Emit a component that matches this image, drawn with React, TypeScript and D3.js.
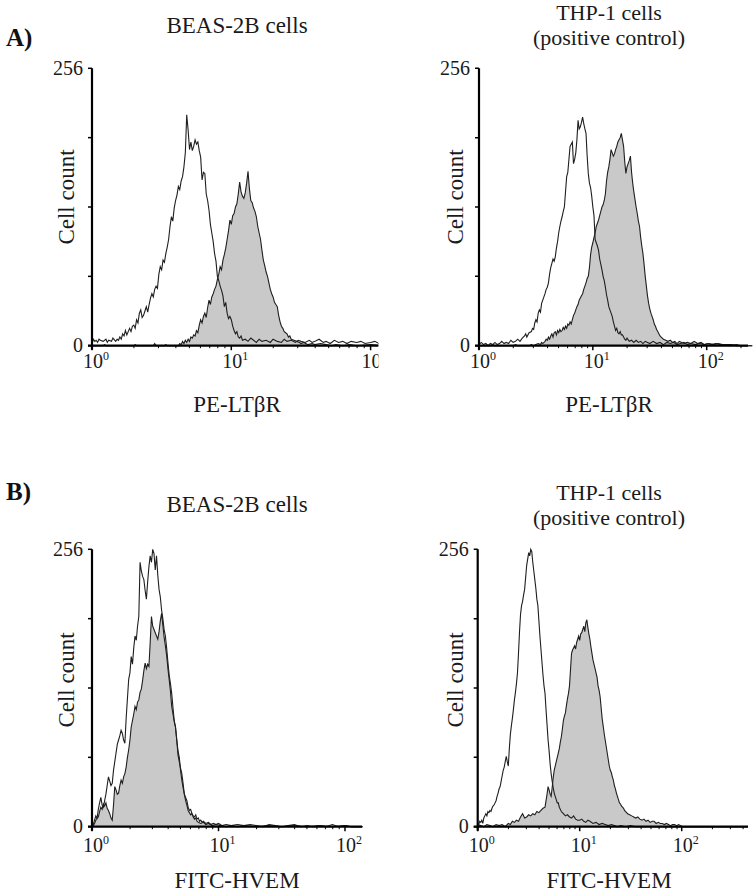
import React from "react";
import * as d3 from "d3";

type Pt = [number, number];

// Flow-cytometry histograms. x = channel position in 1/100 decade (0 -> 10^0, 100 -> 10^1, 200 -> 10^2), y = cell count
const beasLtbrControl: Pt[] = [
  [0, 2], [1, 6], [2, 4], [3, 5], [4, 3], [5, 6], [6, 5], [8, 4], [10, 6], [11, 3], [12, 5], [14, 4], [15, 7], [17, 4], [18, 6], [19, 5],
  [20, 8], [21, 6], [22, 11], [23, 9], [24, 14], [25, 10], [26, 13], [27, 16], [28, 13], [29, 18], [30, 19], [31, 16], [32, 24], [33, 21],
  [34, 30], [35, 33], [36, 26], [37, 28], [38, 32], [39, 36], [40, 31], [41, 38], [42, 44], [43, 48], [44, 45], [45, 52], [46, 55], [47, 53],
  [48, 66], [49, 73], [50, 70], [51, 79], [52, 77], [53, 85], [54, 91], [55, 98], [56, 110], [57, 119], [58, 115], [59, 127], [60, 134],
  [61, 139], [62, 147], [63, 144], [64, 152], [65, 156], [66, 165], [67, 178], [68, 213], [69, 199], [70, 181], [71, 188], [72, 180],
  [73, 184], [74, 190], [75, 186], [76, 188], [77, 180], [78, 174], [79, 153], [80, 160], [81, 159], [82, 140], [83, 134], [84, 125],
  [85, 112], [86, 104], [87, 96], [88, 85], [89, 78], [90, 64], [91, 60], [92, 55], [93, 51], [94, 46], [95, 36], [96, 40], [97, 30],
  [98, 25], [99, 27], [100, 24], [101, 18], [102, 14], [103, 11], [104, 13], [105, 8], [106, 7], [107, 9], [108, 5], [110, 6], [112, 4],
  [114, 7], [116, 5], [118, 3], [120, 6], [122, 4], [125, 5], [128, 3], [130, 6], [133, 4], [136, 3], [138, 6], [140, 4], [143, 5],
  [146, 3], [148, 5], [150, 4], [153, 3], [156, 5], [158, 3], [160, 4], [163, 6], [166, 3], [168, 4], [171, 2], [174, 5], [177, 3],
  [180, 4], [183, 2], [186, 4], [190, 3], [193, 4], [196, 2], [200, 3], [203, 4], [206, 2], [210, 3],
];

const beasLtbrStained: Pt[] = [
  [0, 0], [8, 0], [9, 1], [10, 0], [30, 0], [31, 1], [32, 0], [44, 0], [45, 2], [46, 0], [52, 0], [53, 1], [54, 0], [62, 0], [63, 2],
  [64, 1], [65, 4], [66, 2], [67, 5], [68, 3], [69, 6], [70, 4], [71, 8], [72, 7], [73, 10], [74, 9], [75, 14], [76, 12], [77, 19],
  [78, 24], [79, 21], [80, 27], [81, 30], [82, 26], [83, 35], [84, 42], [85, 38], [86, 45], [87, 48], [88, 52], [89, 55], [90, 61],
  [91, 66], [92, 73], [93, 70], [94, 79], [95, 84], [96, 90], [97, 98], [98, 106], [99, 116], [100, 112], [101, 120], [102, 122],
  [103, 128], [104, 131], [105, 140], [106, 151], [107, 142], [108, 138], [109, 136], [110, 141], [111, 150], [112, 161], [113, 145],
  [114, 134], [115, 132], [116, 127], [117, 124], [118, 119], [119, 110], [120, 104], [121, 98], [122, 88], [123, 79], [124, 74],
  [125, 68], [126, 64], [127, 58], [128, 52], [129, 48], [130, 45], [131, 40], [132, 38], [133, 36], [134, 28], [135, 22], [136, 18],
  [137, 16], [138, 13], [139, 12], [140, 11], [141, 8], [142, 9], [143, 6], [145, 5], [147, 4], [149, 3], [150, 2], [152, 3], [155, 1],
  [158, 2], [160, 1], [164, 2], [168, 1], [172, 0], [175, 1], [180, 0], [185, 1], [190, 0], [200, 1], [210, 0],
];

const thpLtbrControl: Pt[] = [
  [0, 1], [2, 3], [4, 1], [6, 2], [8, 0], [10, 2], [12, 1], [14, 3], [16, 1], [18, 2], [20, 4], [22, 2], [24, 3], [26, 2], [28, 5],
  [30, 3], [32, 4], [34, 6], [36, 4], [38, 7], [40, 9], [41, 11], [42, 8], [44, 12], [46, 13], [47, 16], [48, 15], [49, 21], [50, 24],
  [51, 22], [52, 30], [53, 33], [54, 31], [55, 39], [56, 42], [57, 45], [58, 48], [59, 52], [60, 54], [61, 58], [62, 66], [63, 72],
  [64, 76], [65, 80], [66, 78], [67, 82], [68, 90], [69, 96], [70, 104], [71, 110], [72, 115], [73, 119], [74, 124], [75, 128],
  [76, 142], [77, 156], [78, 160], [79, 172], [80, 184], [81, 186], [82, 188], [83, 168], [84, 172], [85, 178], [86, 190], [87, 208],
  [88, 200], [89, 202], [90, 206], [91, 211], [92, 205], [93, 200], [94, 196], [95, 175], [96, 159], [97, 150], [98, 146], [99, 138],
  [100, 128], [101, 120], [102, 98], [103, 95], [104, 92], [105, 88], [106, 80], [107, 75], [108, 70], [109, 64], [110, 60], [111, 54],
  [112, 47], [113, 42], [114, 36], [115, 33], [116, 30], [117, 27], [118, 22], [119, 18], [120, 14], [121, 16], [122, 12], [123, 11],
  [124, 13], [125, 10], [126, 10], [127, 8], [128, 6], [129, 5], [130, 7], [132, 4], [134, 5], [136, 3], [138, 5], [140, 3], [142, 4],
  [144, 2], [146, 4], [148, 3], [150, 2], [153, 4], [156, 2], [159, 3], [162, 1], [165, 3], [168, 2], [171, 3], [174, 1], [177, 2],
  [180, 3], [183, 1], [186, 2], [190, 1], [194, 2], [198, 1], [202, 2], [206, 1], [210, 2], [214, 1], [218, 1], [222, 1], [226, 0], [240, 0],
];

const thpLtbrStained: Pt[] = [
  [0, 0], [10, 0], [12, 1], [14, 0], [30, 0], [32, 1], [34, 0], [44, 0], [46, 1], [48, 0], [50, 1], [52, 2], [54, 1], [55, 3], [56, 2],
  [58, 4], [59, 6], [60, 5], [61, 8], [62, 6], [63, 9], [64, 11], [65, 8], [66, 12], [67, 13], [68, 10], [69, 14], [70, 12], [71, 15],
  [72, 13], [73, 14], [74, 17], [75, 15], [76, 18], [77, 16], [78, 20], [79, 19], [80, 22], [81, 20], [82, 24], [83, 28], [84, 30],
  [85, 33], [86, 36], [87, 38], [88, 42], [89, 44], [90, 46], [91, 48], [92, 52], [93, 55], [94, 58], [95, 62], [96, 64], [97, 72],
  [98, 84], [99, 91], [100, 95], [101, 100], [102, 104], [103, 110], [104, 113], [105, 116], [106, 120], [107, 124], [108, 128],
  [109, 130], [110, 134], [111, 140], [112, 152], [113, 160], [114, 165], [115, 172], [116, 181], [117, 178], [118, 175], [119, 177],
  [120, 181], [121, 184], [122, 188], [123, 190], [124, 192], [125, 196], [126, 190], [127, 184], [128, 170], [129, 159], [130, 165],
  [131, 168], [132, 171], [133, 175], [134, 160], [135, 150], [136, 142], [137, 135], [138, 128], [139, 122], [140, 115], [141, 110],
  [142, 100], [143, 92], [144, 85], [145, 75], [146, 64], [147, 55], [148, 46], [149, 39], [150, 34], [151, 30], [152, 27], [153, 24],
  [154, 20], [155, 18], [156, 15], [157, 13], [158, 11], [159, 9], [160, 8], [162, 6], [164, 5], [166, 4], [168, 5], [170, 3], [172, 4],
  [174, 2], [176, 4], [178, 3], [180, 2], [183, 3], [186, 2], [189, 4], [192, 2], [195, 3], [198, 1], [201, 2], [204, 1], [208, 2],
  [212, 1], [216, 1], [220, 0], [226, 1], [230, 0], [240, 0],
];

const beasHvemControl: Pt[] = [
  [0, 0], [1, 2], [2, 6], [3, 10], [4, 8], [5, 16], [6, 22], [7, 27], [8, 20], [9, 18], [10, 24], [11, 30], [12, 38], [13, 46], [14, 42],
  [15, 38], [16, 40], [17, 52], [18, 60], [19, 68], [20, 76], [21, 80], [22, 84], [23, 89], [24, 86], [25, 80], [26, 77], [27, 100],
  [28, 118], [29, 136], [30, 142], [31, 157], [32, 150], [33, 165], [34, 176], [35, 172], [36, 185], [37, 194], [38, 244], [39, 236],
  [40, 231], [41, 228], [42, 218], [43, 210], [44, 226], [45, 240], [46, 250], [47, 244], [48, 256], [49, 252], [50, 237], [51, 250],
  [52, 232], [53, 219], [54, 212], [55, 200], [56, 192], [57, 182], [58, 176], [59, 165], [60, 152], [61, 140], [62, 132], [63, 123],
  [64, 110], [65, 98], [66, 92], [67, 80], [68, 66], [69, 60], [70, 54], [71, 49], [72, 40], [73, 30], [74, 27], [75, 24], [76, 18],
  [77, 15], [78, 16], [79, 12], [80, 10], [81, 9], [82, 11], [83, 7], [84, 8], [85, 5], [86, 6], [87, 4], [88, 5], [90, 3], [92, 4],
  [94, 2], [96, 3], [98, 2], [100, 3], [103, 1], [106, 2], [110, 1], [115, 2], [120, 1], [125, 2], [130, 1], [135, 0], [140, 2],
  [145, 1], [150, 0], [155, 1], [160, 2], [165, 0], [170, 1], [175, 0], [180, 1], [185, 0], [190, 2], [195, 0], [200, 1], [205, 0], [214, 0],
];

const beasHvemStained: Pt[] = [
  [0, 0], [1, 1], [2, 3], [3, 6], [4, 8], [5, 9], [6, 14], [7, 18], [8, 16], [9, 21], [10, 19], [11, 22], [12, 17], [13, 15], [14, 12],
  [15, 8], [16, 6], [17, 20], [18, 37], [19, 34], [20, 30], [21, 31], [22, 38], [23, 43], [24, 40], [25, 46], [26, 49], [27, 55],
  [28, 64], [29, 71], [30, 80], [31, 92], [32, 98], [33, 104], [34, 111], [35, 108], [36, 115], [37, 117], [38, 124], [39, 127],
  [40, 135], [41, 144], [42, 151], [43, 146], [44, 150], [45, 148], [46, 170], [47, 194], [48, 185], [49, 182], [50, 179], [51, 176],
  [52, 173], [53, 180], [54, 190], [55, 197], [56, 186], [57, 175], [58, 167], [59, 158], [60, 146], [61, 136], [62, 125], [63, 111],
  [64, 104], [65, 97], [66, 92], [67, 80], [68, 70], [69, 64], [70, 52], [71, 43], [72, 36], [73, 30], [74, 24], [75, 20], [76, 15],
  [77, 13], [78, 11], [79, 12], [80, 9], [81, 7], [82, 8], [83, 5], [84, 4], [86, 3], [88, 4], [90, 2], [92, 3], [95, 1], [98, 2],
  [102, 1], [106, 0], [110, 1], [115, 0], [120, 1], [130, 0], [140, 1], [150, 0], [160, 1], [170, 0], [180, 1], [190, 0], [200, 1], [205, 0], [214, 0],
];

const thpHvemControl: Pt[] = [
  [0, 3], [1, 2], [2, 5], [3, 4], [4, 6], [5, 3], [6, 8], [7, 10], [8, 12], [9, 10], [10, 14], [11, 13], [12, 15], [13, 14], [14, 17],
  [15, 19], [16, 20], [17, 22], [18, 24], [19, 28], [20, 31], [21, 35], [22, 37], [23, 42], [24, 47], [25, 52], [26, 55], [27, 60],
  [28, 65], [29, 60], [30, 56], [31, 72], [32, 85], [33, 93], [34, 100], [35, 108], [36, 117], [37, 124], [38, 132], [39, 142],
  [40, 160], [41, 180], [42, 196], [43, 204], [44, 208], [45, 214], [46, 219], [47, 230], [48, 241], [49, 247], [50, 253], [51, 250],
  [52, 256], [53, 254], [54, 244], [55, 236], [56, 228], [57, 220], [58, 210], [59, 204], [60, 190], [61, 176], [62, 164], [63, 152],
  [64, 140], [65, 130], [66, 123], [67, 108], [68, 94], [69, 80], [70, 70], [71, 58], [72, 49], [73, 42], [74, 36], [75, 31], [76, 28],
  [77, 25], [78, 22], [79, 22], [80, 18], [81, 16], [82, 14], [83, 13], [84, 12], [86, 10], [88, 11], [90, 9], [92, 8], [94, 10],
  [96, 7], [98, 6], [100, 6], [102, 7], [104, 5], [106, 4], [108, 6], [110, 5], [113, 3], [116, 4], [119, 2], [122, 3], [125, 2],
  [128, 1], [131, 2], [134, 1], [137, 0], [140, 1], [145, 0], [150, 1], [155, 0], [265, 0],
];

const thpHvemStained: Pt[] = [
  [0, 2], [3, 1], [6, 0], [9, 2], [12, 1], [15, 0], [18, 2], [21, 1], [24, 2], [27, 0], [30, 3], [32, 2], [34, 5], [36, 4], [38, 6],
  [40, 5], [42, 9], [44, 12], [46, 8], [48, 9], [50, 11], [52, 10], [54, 12], [56, 11], [58, 14], [60, 13], [62, 15], [64, 17],
  [66, 18], [67, 24], [68, 30], [69, 37], [70, 34], [71, 30], [72, 28], [73, 36], [74, 45], [75, 52], [76, 56], [77, 60], [78, 64],
  [79, 68], [80, 72], [81, 78], [82, 83], [83, 90], [84, 98], [85, 102], [86, 105], [87, 112], [88, 118], [89, 123], [90, 130],
  [91, 145], [92, 160], [93, 163], [94, 165], [95, 167], [96, 164], [97, 170], [98, 173], [99, 176], [100, 172], [101, 178],
  [102, 179], [103, 182], [104, 185], [105, 180], [106, 188], [107, 191], [108, 184], [109, 178], [110, 173], [111, 166], [112, 160],
  [113, 154], [114, 150], [115, 146], [116, 142], [117, 138], [118, 130], [119, 126], [120, 120], [121, 110], [122, 100], [123, 93],
  [124, 86], [125, 80], [126, 74], [127, 68], [128, 62], [129, 56], [130, 52], [131, 50], [132, 46], [133, 43], [134, 38], [135, 35],
  [136, 31], [137, 28], [138, 25], [139, 22], [140, 21], [141, 19], [142, 18], [143, 17], [144, 15], [145, 14], [146, 13], [147, 12],
  [149, 11], [151, 10], [153, 9], [155, 8], [157, 9], [159, 7], [161, 6], [163, 7], [165, 5], [167, 6], [169, 4], [171, 5], [173, 5],
  [175, 3], [177, 4], [179, 3], [181, 3], [183, 2], [185, 3], [187, 2], [189, 1], [191, 2], [193, 2], [195, 1], [197, 2], [199, 1],
  [201, 0], [265, 0],
];

const yTickValues = [0, 64, 128, 192, 256];
const yTickLabels = ["0", "", "", "", "256"];
const xDecades = [0, 1, 2];
const sectionLetters = ["A)", "B)"];
const cellTitles = [["BEAS-2B cells"], ["THP-1 cells", "(positive control)"]];
const markerLabels = ["PE-LTβR", "FITC-HVEM"];
const yAxisTitle = "Cell count";

const seriesByPanel: { control: Pt[]; stained: Pt[] }[][] = [
  [
    { control: beasLtbrControl, stained: beasLtbrStained },
    { control: thpLtbrControl, stained: thpLtbrStained },
  ],
  [
    { control: beasHvemControl, stained: beasHvemStained },
    { control: thpHvemControl, stained: thpHvemStained },
  ],
];

// ---------- layout (pixels) ----------
const rowLayout = [
  { yTop: 68.3, yBase: 345.7, tickLabelBase: 368, xLabelBase: 412, titleBases: [[33], [20, 45]], cellCountY: 197, letterBase: 46 },
  { yTop: 549.3, yBase: 826.7, tickLabelBase: 852, xLabelBase: 888, titleBases: [[512], [500, 525]], cellCountY: 680, letterBase: 500 },
];
const colLayout = [
  { center: 237, cellCountX: 74, titleSize: 23 },
  { center: 609, cellCountX: 463, titleSize: 22 },
];
const panelAxis = [
  [
    { x0: 92, dec: 139.3, xEnd: 378.5 },
    { x0: 479, dec: 113.85, xEnd: 748 },
  ],
  [
    { x0: 92, dec: 126.5, xEnd: 362 },
    { x0: 477.7, dec: 102, xEnd: 748 },
  ],
];

const FONT = "'Liberation Serif', 'Times New Roman', serif";
const LINE = "#1f1f1f";
const FILL = "#c9c9c9";
const TEXT = "#1a1a1a";

function Panel({ row, col }: { row: number; col: number }) {
  const rl = rowLayout[row];
  const cl = colLayout[col];
  const ax = panelAxis[row][col];
  const data = seriesByPanel[row][col];

  const x = d3.scaleLog().domain([1, 100]).range([ax.x0, ax.x0 + 2 * ax.dec]);
  const xMaxVal = x.invert(ax.xEnd);
  const y = d3.scaleLinear().domain([0, 256]).range([rl.yBase, rl.yTop]);
  const fx = (d: Pt) => x(Math.pow(10, d[0] / 100));

  const line = d3.line<Pt>().x(fx).y((d) => y(d[1]));
  const area = d3.area<Pt>().x(fx).y0(y(0)).y1((d) => y(d[1]));

  const allTicks = x.copy().domain([1, xMaxVal]).ticks();
  const majors = xDecades.map((d) => Math.pow(10, d)).filter((v) => v <= xMaxVal * 1.0001);
  const minors = allTicks.filter((v) => !majors.some((m) => Math.abs(m - v) < 1e-9));

  const clipId = `clip-${row}-${col}`;
  const titleLines = cellTitles[col];

  return (
    <g clipPath={`url(#${clipId})`}>
      <defs>
        <clipPath id={clipId}>
          <rect x={col === 0 ? 0 : 378.5} y={0} width={col === 0 ? 378.5 : 755 - 378.5} height={893} />
        </clipPath>
      </defs>
      {titleLines.map((t, i) => (
        <text key={t} x={cl.center} y={rl.titleBases[col][i]} textAnchor="middle" fontSize={cl.titleSize} fill={TEXT} fontFamily={FONT}>
          {t}
        </text>
      ))}
      {/* stained histogram (filled) */}
      <path d={area(data.stained) || ""} fill={FILL} stroke="none" />
      <path d={line(data.stained) || ""} fill="none" stroke={LINE} strokeWidth={1.1} strokeLinejoin="miter" />
      {/* control histogram (open) */}
      <path d={line(data.control) || ""} fill="none" stroke={LINE} strokeWidth={1.1} strokeLinejoin="miter" />

      {/* y axis */}
      <line x1={ax.x0} x2={ax.x0} y1={rl.yTop} y2={rl.yBase + 4} stroke="#000" strokeWidth={2.2} />
      {yTickValues.map((v, i) => (
        <g key={v}>
          <line x1={ax.x0 - 4} x2={ax.x0} y1={y(v)} y2={y(v)} stroke="#000" strokeWidth={1.5} />
          {yTickLabels[i] && (
            <text x={ax.x0 - 9} y={y(v) + (v === 0 ? 6 : 7)} textAnchor="end" fontSize={20} fill={TEXT} fontFamily={FONT}>
              {yTickLabels[i]}
            </text>
          )}
        </g>
      ))}
      {/* x axis */}
      <line x1={ax.x0 - 4} x2={ax.xEnd} y1={rl.yBase} y2={rl.yBase} stroke="#000" strokeWidth={2.2} />
      {minors.map((v) => (
        <line key={`m${v}`} x1={x(v)} x2={x(v)} y1={rl.yBase} y2={rl.yBase + 2.5} stroke="#000" strokeWidth={1} />
      ))}
      {majors.map((v, i) => (
        <g key={`M${v}`}>
          <line x1={x(v)} x2={x(v)} y1={rl.yBase} y2={rl.yBase + 4.5} stroke="#000" strokeWidth={1.5} />
          <text x={x(v) + 4} y={rl.tickLabelBase} textAnchor="middle" fontSize={20} fill={TEXT} fontFamily={FONT}>
            10
            <tspan dy={-8} fontSize={12}>
              {String(xDecades[i])}
            </tspan>
          </text>
        </g>
      ))}
      <text x={cl.center} y={rl.xLabelBase} textAnchor="middle" fontSize={23} fill={TEXT} fontFamily={FONT}>
        {markerLabels[row]}
      </text>
      <text
        transform={`translate(${cl.cellCountX},${rl.cellCountY}) rotate(-90)`}
        textAnchor="middle"
        fontSize={23}
        fill={TEXT}
        fontFamily={FONT}
      >
        {yAxisTitle}
      </text>
    </g>
  );
}

export default function App() {
  return (
    <svg
      width={755}
      height={893}
      viewBox="0 0 755 893"
      style={{ position: "absolute", left: 0, top: 0, background: "#fff" }}
    >
      <rect x={0} y={0} width={755} height={893} fill="#fff" />
      {sectionLetters.map((s, r) => (
        <text key={s} x={6} y={rowLayout[r].letterBase} fontSize={25} fontWeight="bold" fill="#111" fontFamily={FONT}>
          {s}
        </text>
      ))}
      {[0, 1].map((r) => [0, 1].map((c) => <Panel key={`${r}-${c}`} row={r} col={c} />))}
    </svg>
  );
}
